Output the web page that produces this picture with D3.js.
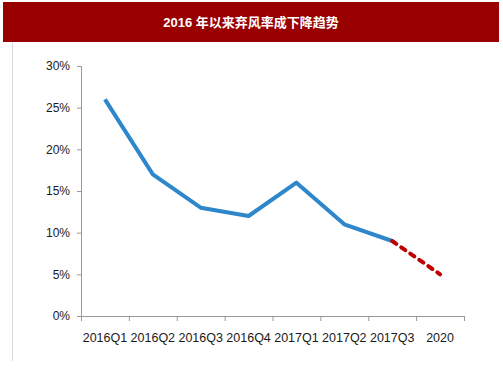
<!DOCTYPE html>
<html><head><meta charset="utf-8">
<script src="https://cdn.jsdelivr.net/npm/d3@7"></script>
<style>body{margin:0;background:#fff;}svg{display:block;font-family:"Liberation Sans",Arial,sans-serif;}</style>
</head><body><svg id="c" width="503" height="378"></svg>
<script>
const title = "2016 年以来弃风率成下降趋势";
const categories = ["2016Q1","2016Q2","2016Q3","2016Q4","2017Q1","2017Q2","2017Q3","2020"];
const actualValues = [0.26,0.17,0.13,0.12,0.16,0.11,0.09];
const forecastCats = ["2017Q3","2020"];
const forecastValues = [0.09,0.05];
const yTicks = [0,0.05,0.10,0.15,0.20,0.25,0.30];

const svg = d3.select("#c");
svg.append("rect").attr("x",3).attr("y",2).attr("width",496).attr("height",40).attr("fill","#990000");
svg.append("text").attr("x",251).attr("y",27).attr("text-anchor","middle")
  .attr("fill","#fff").attr("font-weight","bold").attr("font-size",13)
  .attr("font-family","'Liberation Sans','Noto Sans CJK SC',sans-serif").text(title);
svg.append("line").attr("x1",12.5).attr("x2",12.5).attr("y1",42).attr("y2",361).attr("stroke","#d9d9d9").attr("stroke-width",1);

const x = d3.scaleBand().domain(categories).range([81,464]);
const y = d3.scaleLinear().domain([0,0.30]).range([316,66]);

const yAxis = svg.append("g").attr("transform","translate(81,0)")
  .call(d3.axisLeft(y).tickValues(yTicks).tickFormat(d3.format(".0%")).tickSize(4).tickPadding(7));
const xAxis = svg.append("g").attr("transform","translate(0,316)")
  .call(d3.axisBottom(x).tickSize(0).tickPadding(17));
const edges = categories.map(c=>x(c)).concat([x.range()[1]]);
xAxis.selectAll(".edge").data(edges).enter().append("line").attr("class","edge")
  .attr("x1",d=>d+0.5).attr("x2",d=>d+0.5).attr("y1",0).attr("y2",5).attr("stroke","#999");
[yAxis,xAxis].forEach(g=>{
  g.selectAll(".domain").attr("stroke","#999");
  g.selectAll(".tick line").attr("stroke","#999");
  g.selectAll("text").attr("font-size",12).attr("fill","#1a1a1a").attr("font-family","'Liberation Sans',Arial,sans-serif");
});
xAxis.selectAll("text").attr("font-size",12.5);
xAxis.select(".domain").attr("d","M81,0.5H464.5");

const cx = c => x(c)+x.bandwidth()/2;
const line = d3.line().x(d=>cx(d[0])).y(d=>y(d[1]));
svg.append("path").datum(categories.slice(0,7).map((c,i)=>[c,actualValues[i]]))
  .attr("d",line).attr("fill","none").attr("stroke","#2e87cb").attr("stroke-width",4).attr("stroke-linejoin","round");
svg.append("path").datum(forecastCats.map((c,i)=>[c,forecastValues[i]]))
  .attr("d",line).attr("fill","none").attr("stroke","#c00000").attr("stroke-width",4)
  .attr("stroke-dasharray","5,6").attr("stroke-linecap","round");
</script></body></html>
